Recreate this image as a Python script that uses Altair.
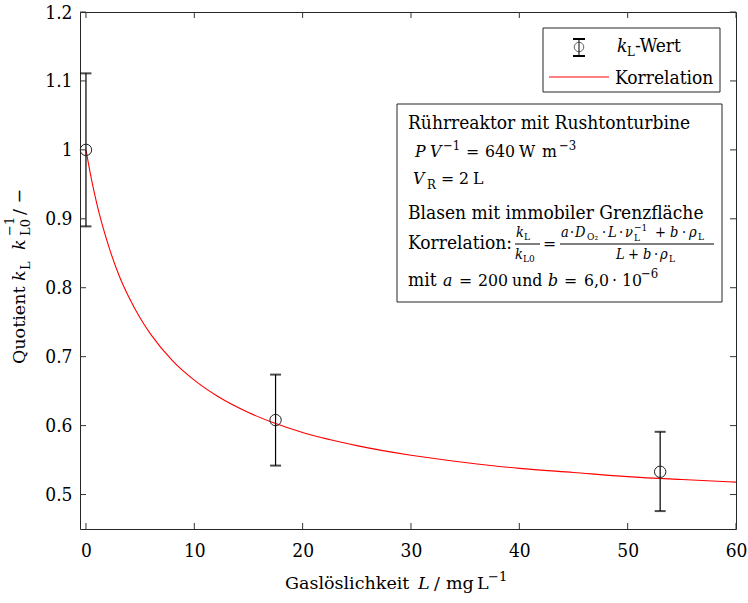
import altair as alt
import pandas as pd

# ---------------- data ----------------
L_meas = [0.0, 17.5, 53.0]
q_meas = [1.0, 0.608, 0.533]
q_low = [0.889, 0.542, 0.476]
q_high = [1.111, 0.674, 0.591]

L_corr = [0, 0.5, 1, 2, 3, 4, 5, 6, 8, 10, 12, 15, 17.5, 20, 25, 30, 35, 40, 45, 50, 55, 60]
q_corr = [1.0, 0.958, 0.922, 0.865, 0.820, 0.785, 0.756, 0.732, 0.694, 0.666, 0.644,
          0.619, 0.603, 0.590, 0.571, 0.557, 0.5465, 0.538, 0.532, 0.526, 0.5217, 0.518]

x_ticks = [0, 10, 20, 30, 40, 50, 60]
y_ticks = [0.5, 0.6, 0.7, 0.8, 0.9, 1.0, 1.1, 1.2]

# ---------------- layout ----------------
OX, OY = 80, 12          # plot origin in page pixels
W, H = 656, 517
FONT = "DejaVu Serif Condensed, DejaVu Serif, serif"
TFONT = "DejaVu Serif, serif"
TICK = 6

xs = alt.Scale(domain=[-0.55, 60], nice=False, zero=False)
ys = alt.Scale(domain=[0.45, 1.2], nice=False, zero=False)
xaxis = alt.Axis(values=x_ticks, ticks=False, domain=False, grid=False, title=None,
                 labelPadding=12, labelFontSize=19, labelFont=FONT, labelColor="black",
                 labelOverlap=False, labelFlush=False)
yaxis = alt.Axis(values=y_ticks, ticks=False, domain=False, grid=False, title=None,
                 labelPadding=8, labelFontSize=19, labelFont=FONT, labelColor="black",
                 labelOverlap=False, labelFlush=False, format="~g")


def X():
    return alt.X("L:Q", scale=xs, axis=xaxis)


def Y(field="q:Q"):
    return alt.Y(field, scale=ys, axis=yaxis)


meas = pd.DataFrame({"L": L_meas, "q": q_meas, "lo": q_low, "hi": q_high})
rule_df = pd.DataFrame({"L": L_meas, "q": q_low, "q2": q_high})
caps_df = pd.DataFrame({"L": L_meas + L_meas, "q": q_low + q_high})
corr = pd.DataFrame({"L": L_corr, "q": q_corr})
xt = pd.DataFrame({"L": x_ticks})
yt = pd.DataFrame({"q": y_ticks})
D0 = pd.DataFrame({"d": [0]})

layers = []

# curve (carries the axes)
layers.append(alt.Chart(corr).mark_line(color="#ff0000", strokeWidth=1.1, interpolate="monotone")
              .encode(x=X(), y=Y()))

# error bars
layers.append(alt.Chart(rule_df).mark_rule(color="black", strokeWidth=1.2)
              .encode(x=X(), y=Y(), y2="q2:Q"))
layers.append(alt.Chart(caps_df).mark_tick(color="black", orient="horizontal", size=11, thickness=2)
              .encode(x=X(), y=Y()))
layers.append(alt.Chart(meas).mark_point(shape="circle", size=130, color="#222", filled=False,
                                          strokeWidth=1, opacity=1)
              .encode(x=X(), y=Y()))

# inward ticks on all four sides
tc = "#333"
layers.append(alt.Chart(xt).mark_rule(color=tc).encode(x=X(), y=alt.value(H), y2=alt.value(H - TICK)))
layers.append(alt.Chart(xt).mark_rule(color=tc).encode(x=X(), y=alt.value(0), y2=alt.value(TICK)))
layers.append(alt.Chart(yt).mark_rule(color=tc).encode(y=Y(), x=alt.value(0), x2=alt.value(TICK)))
layers.append(alt.Chart(yt).mark_rule(color=tc).encode(y=Y(), x=alt.value(W), x2=alt.value(W - TICK)))


def T(s, x, y, size=19, italic=False, angle=0, font=FONT):
    return alt.Chart(D0).mark_text(
        text=s, font=font, fontSize=size, fontStyle="italic" if italic else "normal",
        align="left", baseline="alphabetic", angle=angle, color="black"
    ).encode(x=alt.value(x - OX), y=alt.value(y - OY))


def R(x1, y1, x2, y2, color="black", w=1):
    return alt.Chart(D0).mark_rule(color=color, strokeWidth=w).encode(
        x=alt.value(x1 - OX), x2=alt.value(x2 - OX), y=alt.value(y1 - OY), y2=alt.value(y2 - OY))


def BOX(x1, y1, x2, y2):
    return alt.Chart(D0).mark_rect(fill="white", stroke="#262626", strokeWidth=1).encode(
        x=alt.value(x1 - OX), x2=alt.value(x2 - OX), y=alt.value(y1 - OY), y2=alt.value(y2 - OY))


M = 17.5   # math text size
F = 14.5   # fraction text size
FS = 10    # fraction sub/superscript size

# ---- legend ----
layers.append(BOX(543, 28, 720, 92))
layers.append(R(579, 39, 579, 56))
layers.append(R(573, 39, 585, 39, w=2))
layers.append(R(573, 56, 585, 56, w=2))
layers.append(alt.Chart(D0).mark_point(shape="circle", size=90, color="#222", filled=False, strokeWidth=1)
              .encode(x=alt.value(579 - OX), y=alt.value(47 - OY)))
layers.append(T("k", 617, 52, italic=True))
layers.append(T("L", 627, 56, size=13))
layers.append(T("-Wert", 635, 52))
layers.append(R(549, 77, 609, 77, color="#ff0000"))
layers.append(T("Korrelation", 615, 84))

# ---- info box ----
layers.append(BOX(397, 104, 722, 302))
layers.append(T("Rührreaktor mit Rushtonturbine", 408, 129))
layers.append(T("P", 415, 157, size=M, italic=True))
layers.append(T("V", 430, 157, size=M, italic=True))
layers.append(T("−1", 443, 150, size=13))
layers.append(T("=", 466, 157, size=M))
layers.append(T("640", 485, 157, size=M))
layers.append(T("W", 519, 157, size=M))
layers.append(T("m", 542, 157, size=M))
layers.append(T("−3", 559, 150, size=13))
layers.append(T("V", 413, 184, size=M, italic=True))
layers.append(T("R", 427, 189, size=13))
layers.append(T("=", 441, 184, size=M))
layers.append(T("2", 459, 184, size=M))
layers.append(T("L", 473, 184, size=M))
layers.append(T("Blasen mit immobiler Grenzfläche", 408, 219))
layers.append(T("Korrelation:", 408, 249))
# small fraction
layers.append(T("k", 516, 237, size=F, italic=True))
layers.append(T("L", 524, 240, size=FS))
layers.append(R(515, 244, 540, 244))
layers.append(T("k", 515, 259, size=F, italic=True))
layers.append(T("L0", 523, 262, size=FS))
layers.append(T("=", 543, 249, size=M))
# big fraction numerator
nb = 237
layers.append(T("a", 561, nb, size=F, italic=True))
layers.append(T("·", 570, nb, size=F))
layers.append(T("D", 575, nb, size=F, italic=True))
layers.append(T("O₂", 587, nb + 3, size=FS))
layers.append(T("·", 602, nb, size=F))
layers.append(T("L", 608, nb, size=F, italic=True))
layers.append(T("·", 619, nb, size=F))
layers.append(T("ν", 625, nb, size=F, italic=True))
layers.append(T("L", 634, nb + 4, size=FS))
layers.append(T("−1", 634, nb - 6, size=FS))
layers.append(T("+", 655, nb, size=F))
layers.append(T("b", 670, nb, size=F, italic=True))
layers.append(T("·", 682, nb, size=F))
layers.append(T("ρ", 689, nb, size=F, italic=True))
layers.append(T("L", 698, nb + 3, size=FS))
layers.append(R(560, 244, 714, 244))
db = 259
layers.append(T("L", 616, db, size=F, italic=True))
layers.append(T("+", 628, db, size=F))
layers.append(T("b", 643, db, size=F, italic=True))
layers.append(T("·", 654, db, size=F))
layers.append(T("ρ", 660, db, size=F, italic=True))
layers.append(T("L", 669, db + 3, size=FS))
# last line
lb = 286
layers.append(T("mit", 408, lb))
layers.append(T("a", 443, lb, size=M, italic=True))
layers.append(T("=", 459, lb, size=M))
layers.append(T("200", 478, lb, size=M))
layers.append(T("und", 512, lb, size=M))
layers.append(T("b", 548, lb, size=M, italic=True))
layers.append(T("=", 564, lb, size=M))
layers.append(T("6,0", 584, lb, size=M))
layers.append(T("·", 612, lb, size=M))
layers.append(T("10", 622, lb, size=M))
layers.append(T("−6", 641, lb - 8, size=13))

# ---- axis titles ----
TS = 17.5
layers.append(T("Gaslöslichkeit", 285, 589, size=TS, font=TFONT))
layers.append(T("L", 418, 589, size=TS, italic=True, font=TFONT))
layers.append(T("/", 434, 589, size=TS, font=TFONT))
layers.append(T("mg", 446, 589, size=TS, font=TFONT))
layers.append(T("L", 477, 589, size=TS, font=TFONT))
layers.append(T("−1", 488, 581, size=13, font=TFONT))

layers.append(T("Quotient", 25, 364, size=TS, angle=270, font=TFONT))
layers.append(T("k", 25, 281, size=TS, italic=True, angle=270, font=TFONT))
layers.append(T("L", 30, 270, size=13, angle=270, font=TFONT))
layers.append(T("k", 25, 250, size=TS, italic=True, angle=270, font=TFONT))
layers.append(T("L0", 30, 236, size=13, angle=270, font=TFONT))
layers.append(T("−1", 14, 236, size=13, angle=270, font=TFONT))
layers.append(T("/ −", 25, 215, size=TS, angle=270, font=TFONT))

chart = alt.layer(*layers).properties(
    width=W, height=H,
    autosize=alt.AutoSizeParams(type="none"),
    padding={"left": OX, "top": OY, "right": 748 - OX - W, "bottom": 603 - OY - H},
    background="white",
).configure_view(stroke="#262626", strokeWidth=1)

chart.save("out.html", embed_options={"renderer": "svg", "actions": False})
